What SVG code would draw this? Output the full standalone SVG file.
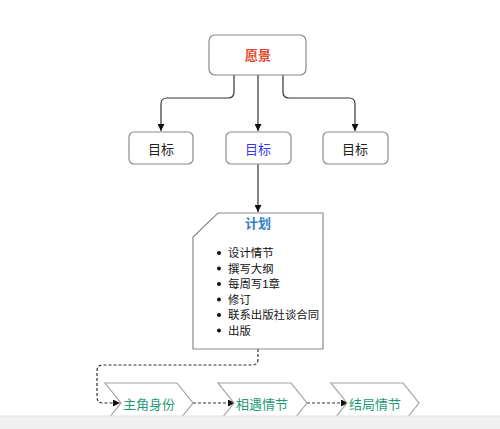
<svg xmlns="http://www.w3.org/2000/svg" width="500" height="429" viewBox="0 0 500 429">
<defs>
<marker id="arr" viewBox="0 0 10 10" refX="10" refY="5" markerWidth="7" markerHeight="7" markerUnits="userSpaceOnUse" orient="auto">
<path d="M0,0 L10,5 L0,10 Z" fill="#111"/>
</marker>
<style>
text{font-family:"Liberation Sans","Noto Sans CJK SC",sans-serif;}
.box{fill:#fff;stroke:#8a8a8a;stroke-width:1.2;}
.lbl{font-size:13px;text-anchor:middle;dominant-baseline:central;fill:#222;}
.conn{fill:none;stroke:#333;stroke-width:1.2;}
.dash{fill:none;stroke:#333;stroke-width:1.2;stroke-dasharray:3,2;}
.chev{fill:#fff;stroke:#a0a0a0;stroke-width:1.2;}
.ch{font-size:13px;fill:#1f9a76;dominant-baseline:central;}
.li{font-size:11.4px;fill:#111;dominant-baseline:central;}
</style>
</defs>
<rect width="500" height="429" fill="#fff"/>
<g id="connectors">
<path class="conn" d="M234,75 V92 Q234,98 228,98 H167 Q161,98 161,104 V131" marker-end="url(#arr)"/>
<path class="conn" d="M258,75 V131" marker-end="url(#arr)"/>
<path class="conn" d="M283,75 V92 Q283,98 289,98 H349 Q355,98 355,104 V131" marker-end="url(#arr)"/>
<path class="conn" d="M258,164 V212" marker-end="url(#arr)"/>
<path class="dash" d="M258,349 V359 Q258,365 252,365 H103 Q97,365 97,371 V397 Q97,403 103,403 H120" marker-end="url(#arr)"/>
<path class="dash" d="M193,403 H235" marker-end="url(#arr)"/>
<path class="dash" d="M307,403 H348" marker-end="url(#arr)"/>
</g>
<g id="vision">
<rect class="box" x="209" y="35" width="97" height="40" rx="6"/>
<text class="lbl" x="258" y="55" style="fill:#e2452b;font-weight:bold">愿景</text>
</g>
<g id="goal1">
<rect class="box" x="129" y="132" width="64" height="32" rx="5"/>
<text class="lbl" x="161" y="149">目标</text>
</g>
<g id="goal2">
<rect class="box" x="226" y="132" width="65" height="32" rx="5"/>
<text class="lbl" x="258" y="149" style="fill:#3b3bea">目标</text>
</g>
<g id="goal3">
<rect class="box" x="323" y="132" width="65" height="32" rx="5"/>
<text class="lbl" x="355" y="149">目标</text>
</g>
<g id="plan">
<path class="box" d="M218,213 H323 V349 H193 V237 Z"/>
<text x="258" y="223" style="font-size:13px;font-weight:bold;fill:#2f7fc8;text-anchor:middle;dominant-baseline:central">计划</text>
<g fill="#111">
<circle cx="219" cy="253" r="2"/>
<circle cx="219" cy="268.5" r="2"/>
<circle cx="219" cy="284" r="2"/>
<circle cx="219" cy="299.5" r="2"/>
<circle cx="219" cy="315" r="2"/>
<circle cx="219" cy="330.5" r="2"/>
</g>
<text class="li" x="228" y="253">设计情节</text>
<text class="li" x="228" y="268.5">撰写大纲</text>
<text class="li" x="228" y="284">每周写1章</text>
<text class="li" x="228" y="299.5">修订</text>
<text class="li" x="228" y="315">联系出版社谈合同</text>
<text class="li" x="228" y="330.5">出版</text>
</g>
<g id="step1">
<path class="chev" d="M105,383 H177 L193,403 L177,423 H105 L121,403 Z"/>
<text class="ch" x="123" y="404">主角身份</text>
</g>
<g id="step2">
<path class="chev" d="M218,383 H291 L307,403 L291,423 H218 L234,403 Z"/>
<text class="ch" x="236" y="404">相遇情节</text>
</g>
<g id="step3">
<path class="chev" d="M331,383 H403 L419,403 L403,423 H331 L347,403 Z"/>
<text class="ch" x="349" y="404">结局情节</text>
</g>
<rect x="0" y="416" width="500" height="13" fill="#f0f0f0"/>
<line x1="0" y1="416" x2="500" y2="416" stroke="#e2e2e2" stroke-width="1"/>
</svg>
